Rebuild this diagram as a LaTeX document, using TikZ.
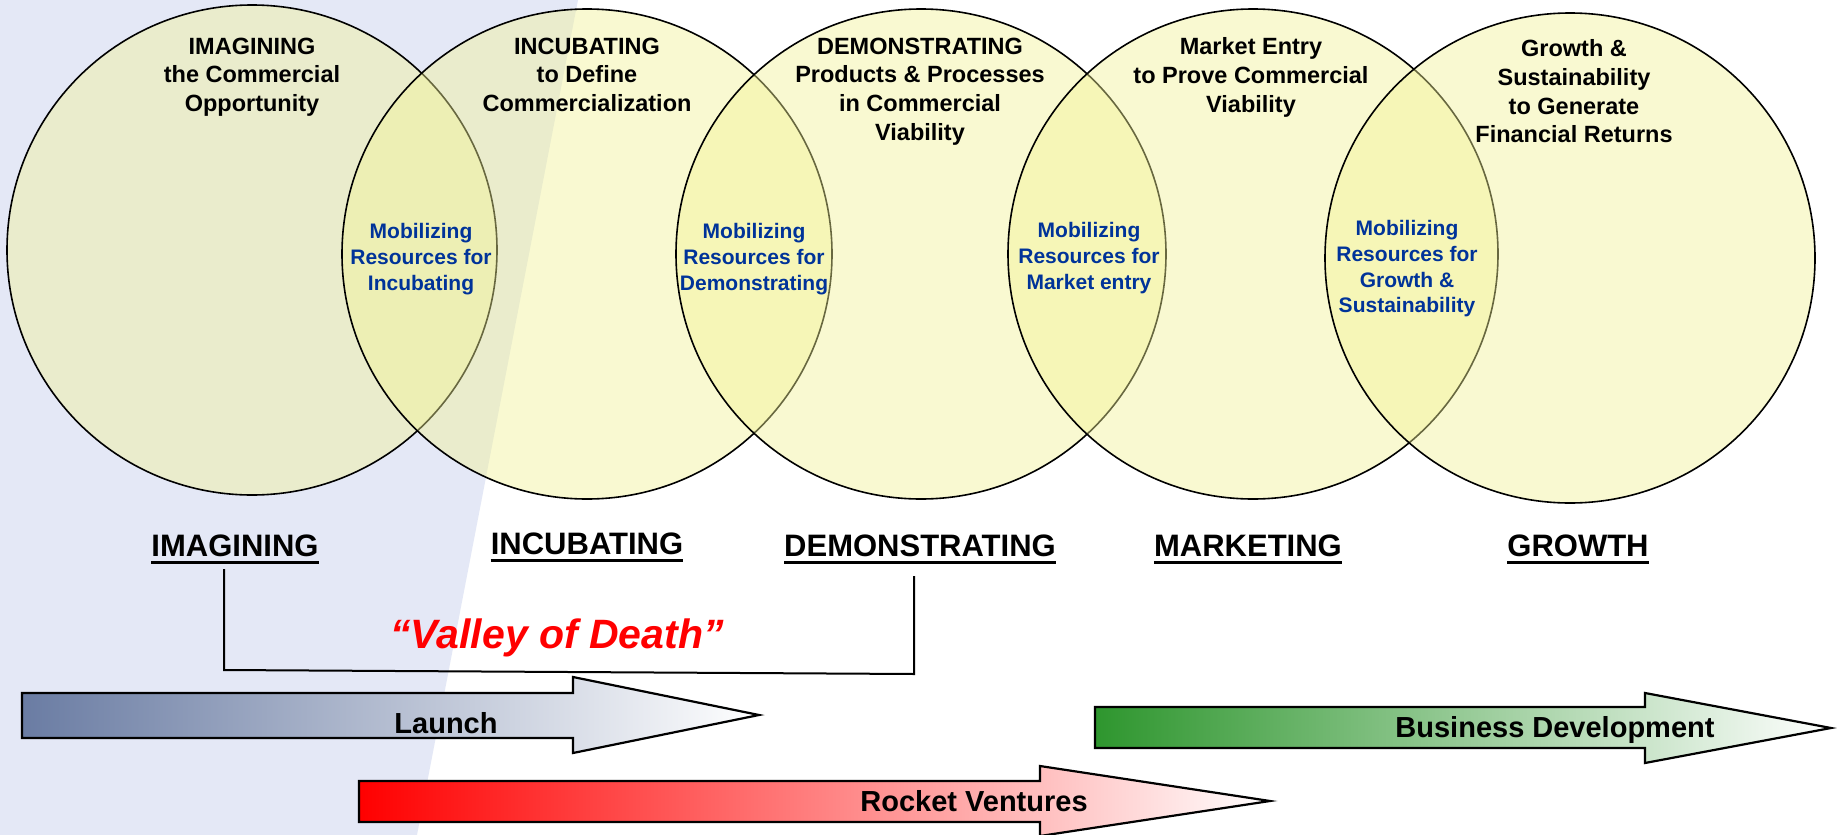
\documentclass[tikz,border=0pt]{standalone}
\usepackage{fontspec}
\setmainfont{Liberation Sans}
\definecolor{lav}{RGB}{228,232,246}
\definecolor{circfill}{RGB}{243,243,150}
\definecolor{mobblue}{RGB}{0,51,153}
\definecolor{launchL}{RGB}{106,124,163}
\definecolor{launchM}{RGB}{205,208,218}
\definecolor{greenL}{RGB}{46,150,46}
\definecolor{greenM}{RGB}{140,196,140}
\definecolor{redL}{RGB}{255,0,0}
\definecolor{redM}{RGB}{252,150,150}
\begin{document}
\begin{tikzpicture}[x=1pt,y=-1pt,
  circ/.style={circle, draw=black, line width=1.6pt, fill=circfill, fill opacity=0.43,
    minimum size=490pt, inner sep=0pt},
  headtxt/.style={font=\bfseries\fontsize{23.5}{28.7}\selectfont, align=center,
    anchor=north, inner sep=0pt, execute at begin node=\strut},
  mobtxt/.style={font=\bfseries\fontsize{21}{25.8}\selectfont, align=center,
    anchor=north, inner sep=0pt, text=mobblue, execute at begin node=\strut},
  phase/.style={font=\bfseries\fontsize{31}{36}\selectfont, anchor=base, inner sep=0pt},
  uline/.style={line width=3pt, black},
  arrowtxt/.style={font=\bfseries\fontsize{29}{34}\selectfont, anchor=base, inner sep=0pt},
  bigarrow/.style={draw=black, line width=2.2pt, line join=miter},
  bracket/.style={draw=black, line width=2pt}
]
\useasboundingbox (0,0) rectangle (1837,835);
\fill[white] (0,0) rectangle (1837,835);
\fill[lav] (0,0) -- (578,0) -- (417,835) -- (0,835) -- cycle;

% circles
\node[circ] (c1) at (252,250) {};
\node[circ] (c2) at (587,254) {};
\node[circ] (c3) at (921,254) {};
\node[circ] (c4) at (1253,254) {};
\node[circ] (c5) at (1570,258) {};

% circle texts
\node[headtxt] (t1) at (252,37.5) {IMAGINING\\the Commercial\\Opportunity};
\node[headtxt] (t2) at (587,37.5) {INCUBATING\\to Define\\Commercialization};
\node[headtxt] (t3) at (920,37.5) {DEMONSTRATING\\Products \& Processes\\in Commercial\\Viability};
\node[headtxt] (t4) at (1251,37.5) {Market Entry\\to Prove Commercial\\Viability};
\node[headtxt] (t5) at (1574,39.5) {Growth \&\\Sustainability\\to Generate\\Financial Returns};

% overlap texts
\node[mobtxt] (m1) at (421,223) {Mobilizing\\Resources for\\Incubating};
\node[mobtxt] (m2) at (754,223) {Mobilizing\\Resources for\\Demonstrating};
\node[mobtxt] (m3) at (1089,222) {Mobilizing\\Resources for\\Market entry};
\node[mobtxt] (m4) at (1407,220) {Mobilizing\\Resources for\\Growth \&\\Sustainability};

% phase labels
\node[phase] (p1) at (235,556) {IMAGINING};
\node[phase] (p2) at (587,554) {INCUBATING};
\node[phase] (p3) at (920,556) {DEMONSTRATING};
\node[phase] (p4) at (1248,556) {MARKETING};
\node[phase] (p5) at (1578,556) {GROWTH};
\foreach \p in {p1,p2,p3,p4,p5}
  \draw[uline] ([yshift=-6pt]\p.base west) -- ([yshift=-6pt]\p.base east);

% valley of death bracket
\coordinate (vd1) at (224,569);
\coordinate (vd2) at (224,670);
\coordinate (vd3) at (914,674);
\coordinate (vd4) at (914,576);
\draw[bracket] (vd1) -- (vd2) -- (vd3) -- (vd4);
\node[font=\bfseries\itshape\fontsize{41}{48}\selectfont, text=red, anchor=base, inner sep=0pt]
  (vod) at (557,648) {“Valley of Death”};

% arrows
\path[bigarrow, left color=launchL, middle color=launchM, right color=white]
  (22,693) -- (573,693) -- (573,677) -- (759,715) -- (573,753) -- (573,738) -- (22,738) -- cycle;
\node[arrowtxt] (la) at (446,733) {Launch};

\path[bigarrow, left color=greenL, middle color=greenM, right color=white]
  (1095,707) -- (1645,707) -- (1645,693) -- (1831,728) -- (1645,763) -- (1645,748) -- (1095,748) -- cycle;
\node[arrowtxt] (bd) at (1555,737) {Business Development};

\path[bigarrow, left color=redL, middle color=redM, right color=white]
  (359,781) -- (1040,781) -- (1040,766) -- (1270,801) -- (1040,836) -- (1040,822) -- (359,822) -- cycle;
\node[arrowtxt] (rv) at (974,811) {Rocket Ventures};
\end{tikzpicture}
\end{document}
